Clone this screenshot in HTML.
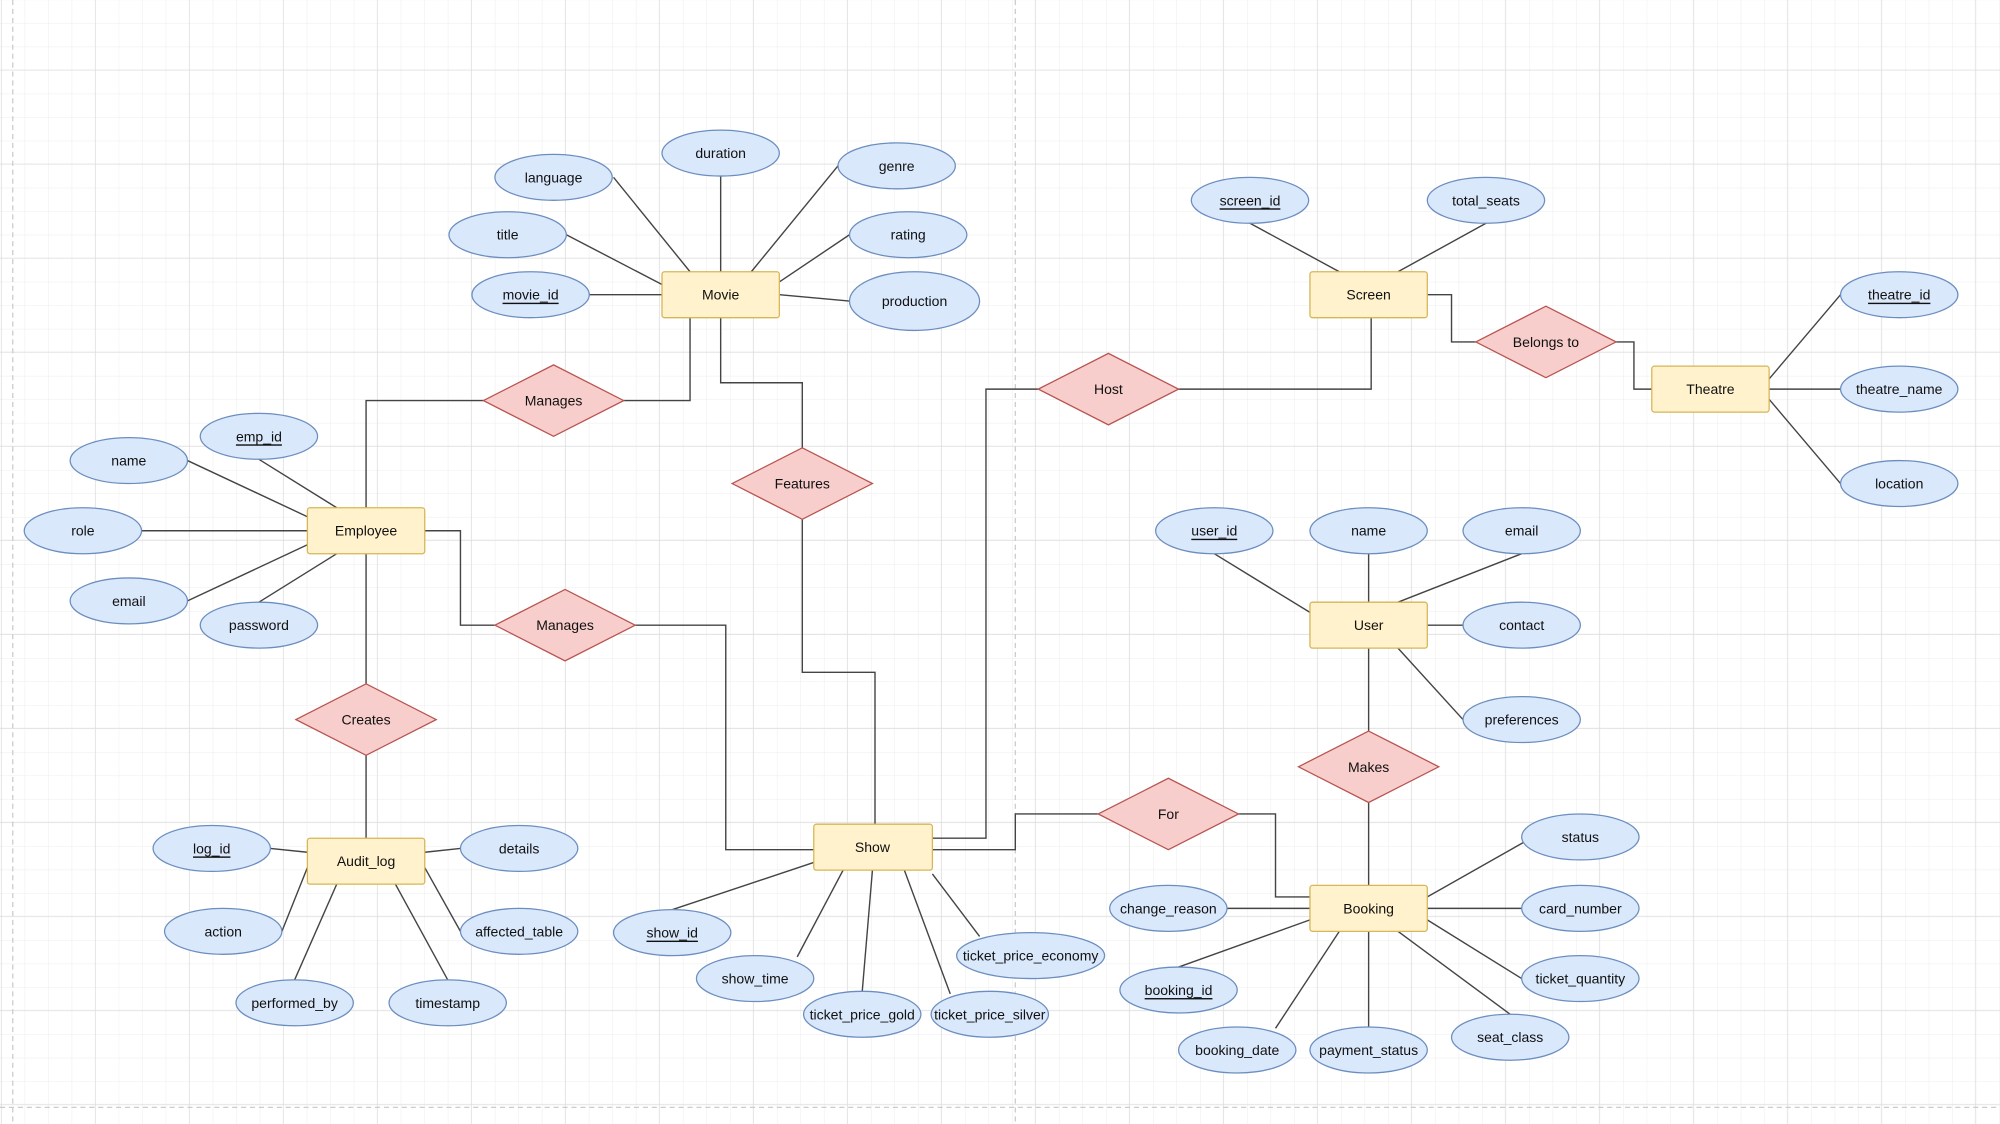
<!DOCTYPE html>
<html><head><meta charset="utf-8"><style>
html,body{margin:0;padding:0;background:#fff;}
svg{display:block}
text{font-family:"Liberation Sans",sans-serif;font-size:11px;fill:#111;text-anchor:middle;dominant-baseline:central}
.e{fill:#dae8fc;stroke:#6c8ebf;stroke-width:1}
.r{fill:#fff2cc;stroke:#d6b656;stroke-width:1}
.d{fill:#f8cecc;stroke:#b85450;stroke-width:1}
.l{fill:none;stroke:#444;stroke-width:1.1}
</style></head><body>
<svg width="2000" height="1124" viewBox="0 0 1568 881" preserveAspectRatio="none" xmlns="http://www.w3.org/2000/svg">
<defs>
<pattern id="mn" x="1.3" y="0.1" width="18.43" height="18.43" patternUnits="userSpaceOnUse"><path d="M18.43 0V18.43M0 18.43H18.43" fill="none" stroke="#ececec" stroke-width="0.8"/></pattern>
<pattern id="mj" x="1.3" y="-18.6" width="73.7" height="73.7" patternUnits="userSpaceOnUse"><path d="M73.7 0V73.7M0 73.7H73.7" fill="none" stroke="#dcdcdc" stroke-width="1"/></pattern>
</defs>
<rect width="1568" height="881" fill="url(#mn)"/>
<rect width="1568" height="881" fill="url(#mj)"/>
<line x1="10" y1="0" x2="10" y2="881" stroke="#ccc" stroke-dasharray="4 3"/>
<line x1="796" y1="0" x2="796" y2="881" stroke="#ccc" stroke-dasharray="4 3"/>
<line x1="0" y1="868" x2="1568" y2="868" stroke="#ccc" stroke-dasharray="4 3"/>

<g class="l">
<!-- Movie -->
<line x1="481" y1="139" x2="541" y2="213"/><line x1="565" y1="138" x2="565" y2="213"/><line x1="657" y1="130" x2="589" y2="213"/>
<line x1="444" y1="184" x2="519" y2="223"/><line x1="666" y1="184" x2="611" y2="221"/><line x1="462" y1="231" x2="519" y2="231"/><line x1="611" y1="231" x2="666" y2="236"/>
<polyline points="541,249 541,314 489,314"/><polyline points="379,314 287,314 287,398"/>
<polyline points="565,249 565,300 629,300 629,351"/><polyline points="629,407 629,527 686,527 686,646"/>
<polyline points="731,657 773,657 773,305 814,305"/><polyline points="924,305 1075,305 1075,249"/>
<polyline points="1119,231 1138,231 1138,268 1157,268"/><polyline points="1267,268 1281,268 1281,305 1295,305"/>
<line x1="1387" y1="297" x2="1443" y2="231"/><line x1="1387" y1="305" x2="1443" y2="305"/><line x1="1387" y1="313" x2="1443" y2="379"/>
<line x1="980" y1="175" x2="1050" y2="213"/><line x1="1165" y1="175" x2="1096" y2="213"/>
<!-- Employee -->
<line x1="203" y1="360" x2="264" y2="398"/><line x1="147" y1="361" x2="241" y2="405"/><line x1="111" y1="416" x2="241" y2="416"/><line x1="147" y1="471" x2="241" y2="427"/><line x1="203" y1="472" x2="264" y2="434"/>
<polyline points="333,416 361,416 361,490 388,490"/><polyline points="498,490 569,490 569,666 638,666"/>
<line x1="287" y1="434" x2="287" y2="536"/><line x1="287" y1="592" x2="287" y2="657"/>
<!-- Audit -->
<line x1="212" y1="665" x2="241" y2="668"/><line x1="361" y1="665" x2="333" y2="668"/><line x1="221" y1="730" x2="241" y2="680"/><line x1="361" y1="730" x2="333" y2="680"/><line x1="231" y1="768" x2="264" y2="693"/><line x1="351" y1="768" x2="310" y2="693"/>
<!-- User -->
<line x1="952" y1="434" x2="1027" y2="480"/><line x1="1073" y1="434" x2="1073" y2="472"/><line x1="1193" y1="434" x2="1096" y2="472"/><line x1="1147" y1="490" x2="1119" y2="490"/><line x1="1147" y1="564" x2="1096" y2="508"/>
<line x1="1073" y1="508" x2="1073" y2="573"/><line x1="1073" y1="629" x2="1073" y2="694"/>
<!-- Show -->
<polyline points="731,666 796,666 796,638 861,638"/><polyline points="971,638 1000,638 1000,703 1027,703"/>
<line x1="527" y1="713" x2="638" y2="676"/><line x1="625" y1="750" x2="661" y2="682"/><line x1="676" y1="777" x2="684" y2="682"/><line x1="745" y1="779" x2="709" y2="682"/><line x1="768" y1="734" x2="731" y2="685"/>
<!-- Booking -->
<line x1="962" y1="712" x2="1027" y2="712"/><line x1="1195" y1="660" x2="1119" y2="703"/><line x1="1193" y1="712" x2="1119" y2="712"/><line x1="1193" y1="767" x2="1119" y2="721"/><line x1="924" y1="758" x2="1027" y2="721"/><line x1="1000" y1="806" x2="1050" y2="730"/><line x1="1073" y1="805" x2="1073" y2="730"/><line x1="1184" y1="795" x2="1096" y2="730"/>
</g>

<!-- Ellipses -->
<g>
<ellipse class="e" cx="565" cy="120" rx="46" ry="18"/><text x="565" y="120">duration</text>
<ellipse class="e" cx="434" cy="139" rx="46" ry="18"/><text x="434" y="139">language</text>
<ellipse class="e" cx="703" cy="130" rx="46" ry="18"/><text x="703" y="130">genre</text>
<ellipse class="e" cx="398" cy="184" rx="46" ry="18"/><text x="398" y="184">title</text>
<ellipse class="e" cx="712" cy="184" rx="46" ry="18"/><text x="712" y="184">rating</text>
<ellipse class="e" cx="416" cy="231" rx="46" ry="18"/><text x="416" y="231" text-decoration="underline">movie_id</text>
<ellipse class="e" cx="717" cy="236" rx="51" ry="23"/><text x="717" y="236">production</text>
<ellipse class="e" cx="980" cy="157" rx="46" ry="18"/><text x="980" y="157" text-decoration="underline">screen_id</text>
<ellipse class="e" cx="1165" cy="157" rx="46" ry="18"/><text x="1165" y="157">total_seats</text>
<ellipse class="e" cx="1489" cy="231" rx="46" ry="18"/><text x="1489" y="231" text-decoration="underline">theatre_id</text>
<ellipse class="e" cx="1489" cy="305" rx="46" ry="18"/><text x="1489" y="305">theatre_name</text>
<ellipse class="e" cx="1489" cy="379" rx="46" ry="18"/><text x="1489" y="379">location</text>
<ellipse class="e" cx="203" cy="342" rx="46" ry="18"/><text x="203" y="342" text-decoration="underline">emp_id</text>
<ellipse class="e" cx="101" cy="361" rx="46" ry="18"/><text x="101" y="361">name</text>
<ellipse class="e" cx="65" cy="416" rx="46" ry="18"/><text x="65" y="416">role</text>
<ellipse class="e" cx="101" cy="471" rx="46" ry="18"/><text x="101" y="471">email</text>
<ellipse class="e" cx="203" cy="490" rx="46" ry="18"/><text x="203" y="490">password</text>
<ellipse class="e" cx="952" cy="416" rx="46" ry="18"/><text x="952" y="416" text-decoration="underline">user_id</text>
<ellipse class="e" cx="1073" cy="416" rx="46" ry="18"/><text x="1073" y="416">name</text>
<ellipse class="e" cx="1193" cy="416" rx="46" ry="18"/><text x="1193" y="416">email</text>
<ellipse class="e" cx="1193" cy="490" rx="46" ry="18"/><text x="1193" y="490">contact</text>
<ellipse class="e" cx="1193" cy="564" rx="46" ry="18"/><text x="1193" y="564">preferences</text>
<ellipse class="e" cx="166" cy="665" rx="46" ry="18"/><text x="166" y="665" text-decoration="underline">log_id</text>
<ellipse class="e" cx="407" cy="665" rx="46" ry="18"/><text x="407" y="665">details</text>
<ellipse class="e" cx="175" cy="730" rx="46" ry="18"/><text x="175" y="730">action</text>
<ellipse class="e" cx="407" cy="730" rx="46" ry="18"/><text x="407" y="730">affected_table</text>
<ellipse class="e" cx="231" cy="786" rx="46" ry="18"/><text x="231" y="786">performed_by</text>
<ellipse class="e" cx="351" cy="786" rx="46" ry="18"/><text x="351" y="786">timestamp</text>
<ellipse class="e" cx="527" cy="731" rx="46" ry="18"/><text x="527" y="731" text-decoration="underline">show_id</text>
<ellipse class="e" cx="592" cy="767" rx="46" ry="18"/><text x="592" y="767">show_time</text>
<ellipse class="e" cx="676" cy="795" rx="46" ry="18"/><text x="676" y="795">ticket_price_gold</text>
<ellipse class="e" cx="776" cy="795" rx="46" ry="18"/><text x="776" y="795">ticket_price_silver</text>
<ellipse class="e" cx="808" cy="749" rx="58" ry="18"/><text x="808" y="749">ticket_price_economy</text>
<ellipse class="e" cx="916" cy="712" rx="46" ry="18"/><text x="916" y="712">change_reason</text>
<ellipse class="e" cx="1239" cy="656" rx="46" ry="18"/><text x="1239" y="656">status</text>
<ellipse class="e" cx="1239" cy="712" rx="46" ry="18"/><text x="1239" y="712">card_number</text>
<ellipse class="e" cx="1239" cy="767" rx="46" ry="18"/><text x="1239" y="767">ticket_quantity</text>
<ellipse class="e" cx="924" cy="776" rx="46" ry="18"/><text x="924" y="776" text-decoration="underline">booking_id</text>
<ellipse class="e" cx="970" cy="823" rx="46" ry="18"/><text x="970" y="823">booking_date</text>
<ellipse class="e" cx="1073" cy="823" rx="46" ry="18"/><text x="1073" y="823">payment_status</text>
<ellipse class="e" cx="1184" cy="813" rx="46" ry="18"/><text x="1184" y="813">seat_class</text>
</g>

<!-- Entities -->
<g>
<rect class="r" x="519" y="213" width="92" height="36" rx="2"/><text x="565" y="231">Movie</text>
<rect class="r" x="1027" y="213" width="92" height="36" rx="2"/><text x="1073" y="231">Screen</text>
<rect class="r" x="1295" y="287" width="92" height="36" rx="2"/><text x="1341" y="305">Theatre</text>
<rect class="r" x="241" y="398" width="92" height="36" rx="2"/><text x="287" y="416">Employee</text>
<rect class="r" x="1027" y="472" width="92" height="36" rx="2"/><text x="1073" y="490">User</text>
<rect class="r" x="638" y="646" width="93" height="36" rx="2"/><text x="684" y="664">Show</text>
<rect class="r" x="1027" y="694" width="92" height="36" rx="2"/><text x="1073" y="712">Booking</text>
<rect class="r" x="241" y="657" width="92" height="36" rx="2"/><text x="287" y="675">Audit_log</text>
</g>

<!-- Relationships -->
<g>
<polygon class="d" points="379,314 434,286 489,314 434,342"/><text x="434" y="314">Manages</text>
<polygon class="d" points="574,379 629,351 684,379 629,407"/><text x="629" y="379">Features</text>
<polygon class="d" points="814,305 869,277 924,305 869,333"/><text x="869" y="305">Host</text>
<polygon class="d" points="1157,268 1212,240 1267,268 1212,296"/><text x="1212" y="268">Belongs to</text>
<polygon class="d" points="388,490 443,462 498,490 443,518"/><text x="443" y="490">Manages</text>
<polygon class="d" points="232,564 287,536 342,564 287,592"/><text x="287" y="564">Creates</text>
<polygon class="d" points="1018,601 1073,573 1128,601 1073,629"/><text x="1073" y="601">Makes</text>
<polygon class="d" points="861,638 916,610 971,638 916,666"/><text x="916" y="638">For</text>
</g>
</svg>
</body></html>
